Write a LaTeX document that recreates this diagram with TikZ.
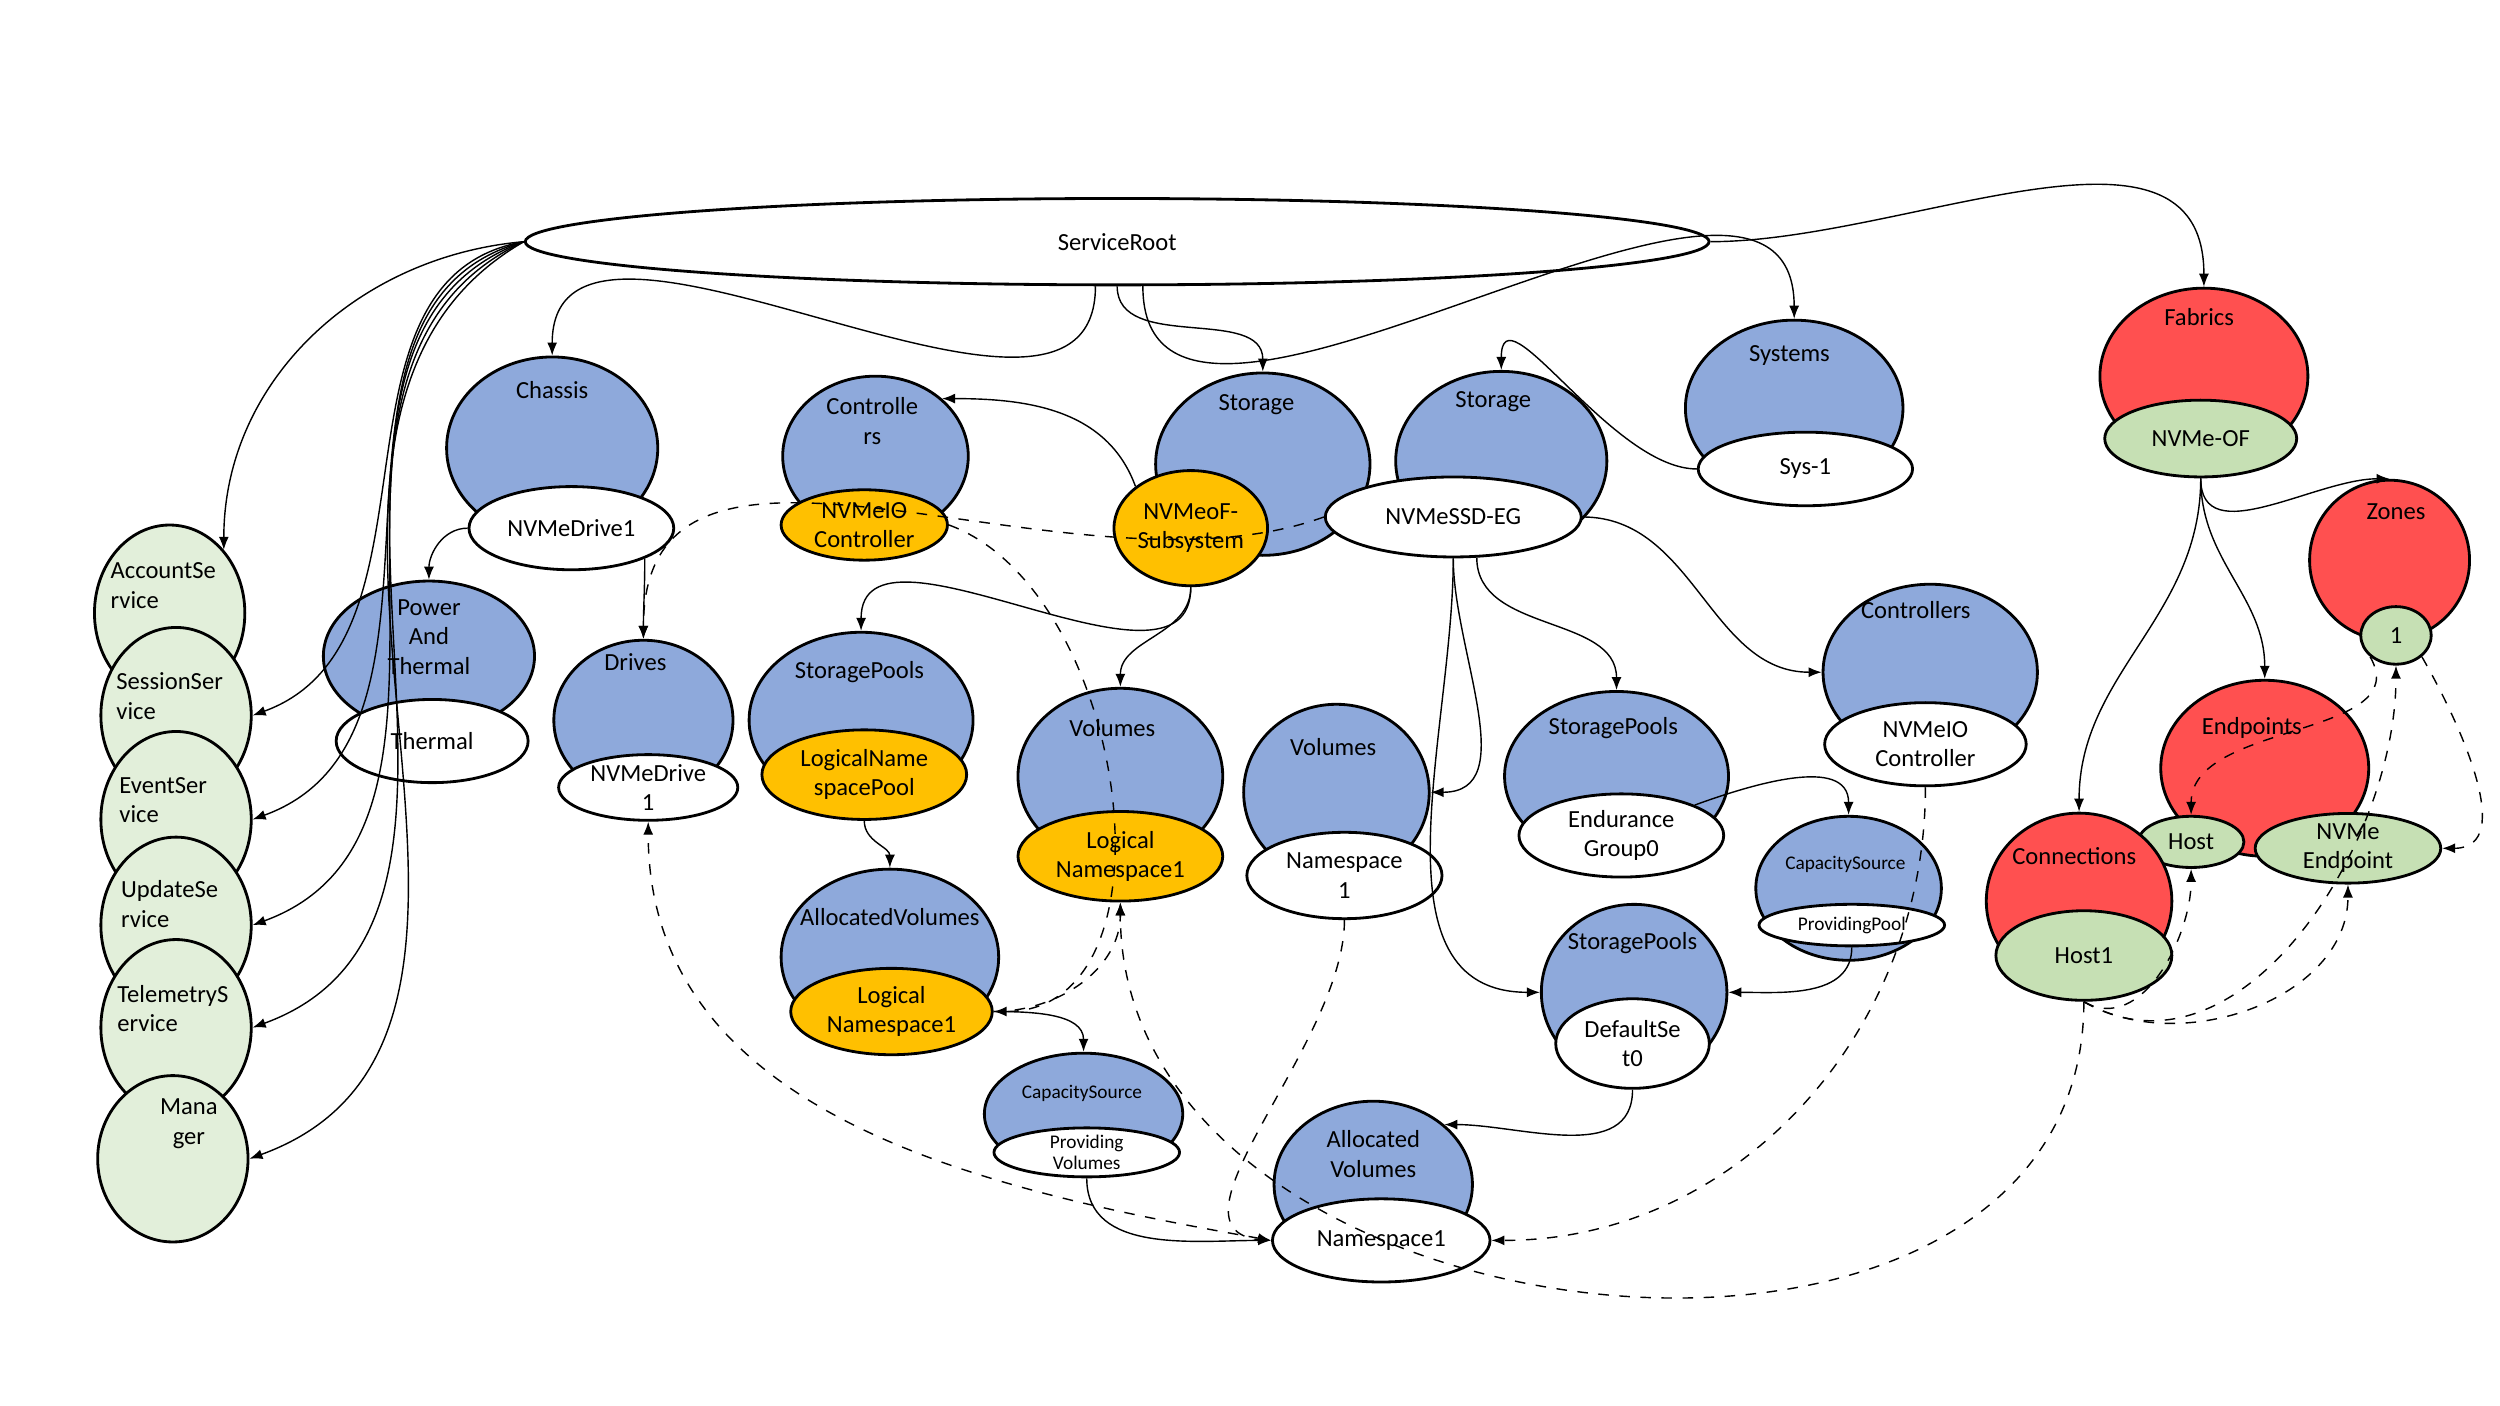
\documentclass[tikz,border=0pt]{standalone}
\usepackage{fontspec}
\setmainfont{Carlito}
\usetikzlibrary{shapes.geometric,arrows.meta}
\definecolor{resblue}{HTML}{8EA9DB}
\definecolor{resorange}{HTML}{FFC000}
\definecolor{resred}{HTML}{FF5050}
\definecolor{resgreen}{HTML}{C6E0B4}
\definecolor{respale}{HTML}{E2EFDA}
\begin{document}
\begin{tikzpicture}[x=0.016cm,y=-0.016cm,font=\fontsize{7}{8.4}\selectfont,
    sz/.style 2 args={minimum width=#1*0.032cm,minimum height=#2*0.032cm},
    res/.style={ellipse,draw,thick,inner sep=0pt,align=center},
    blue/.style={res,fill=resblue},
    orange/.style={res,fill=resorange},
    red/.style={res,fill=resred},
    green/.style={res,fill=resgreen},
    pale/.style={res,fill=respale},
    white/.style={res,fill=white},
    lbl/.style={align=center,inner sep=1pt}]
      \useasboundingbox (0,0) rectangle (1562,878);
      % collections and members
      \node[white,sz={370}{27}] (sr) at (698,151) {ServiceRoot};
      \node[blue,sz={66}{57}] (chassis) at (345,280) {};
      \node[lbl] (chassisT) at (345,244) {Chassis};
      \node[white,sz={64}{26}] (drive1) at (357,330) {NVMeDrive1};
      \node[blue,sz={66}{47}] (power) at (268,410) {};
      \node[lbl] (powerT) at (268,398) {Power\\And\\Thermal};
      \node[white,sz={60}{26}] (thermal) at (270,463) {Thermal};
      \node[blue,sz={56}{50}] (drives) at (402,450) {};
      \node[lbl] (drivesT) at (397,414) {Drives};
      \node[white,sz={56}{19}] (drive2) at (405,492) {NVMeDrive\\1};
      \node[blue,sz={58}{50}] (ctrlA) at (547,285) {};
      \node[lbl] (ctrlAT) at (545,263) {Controlle\\rs};
      \node[orange,sz={52}{22}] (ioA) at (540,328) {NVMeIO\\Controller};
      \node[blue,sz={67}{57}] (stA) at (789,290) {};
      \node[lbl] (stAT) at (785,253) {Storage};
      \node[orange,sz={48}{36}] (subsys) at (744,330) {NVMeoF-\\Subsystem};
      \node[blue,sz={66}{56}] (stB) at (938,288) {};
      \node[lbl] (stBT) at (933,251) {Storage};
      \node[white,sz={80}{25}] (ssd) at (908,323) {NVMeSSD-EG};
      \node[blue,sz={68}{55}] (systems) at (1121,255) {};
      \node[lbl] (systemsT) at (1118,222) {Systems};
      \node[white,sz={67}{23}] (sys1) at (1128,293) {Sys-1};
      \node[blue,sz={70}{55}] (poolA) at (538,450) {};
      \node[lbl] (poolAT) at (537,420) {StoragePools};
      \node[orange,sz={64}{28}] (lnp) at (540,484) {LogicalName\\spacePool};
      \node[blue,sz={64}{55}] (volA) at (700,485) {};
      \node[lbl] (volAT) at (695,455) {Volumes};
      \node[orange,sz={64}{28}] (lnA) at (700,535) {Logical\\Namespace1};
      \node[blue,sz={58}{55}] (volB) at (835,495) {};
      \node[lbl] (volBT) at (833,467) {Volumes};
      \node[white,sz={61}{27}] (ns1) at (840,547) {Namespace\\1};
      \node[blue,sz={68}{55}] (alloc) at (556,598) {};
      \node[lbl] (allocT) at (556,573) {AllocatedVolumes};
      \node[orange,sz={63}{27}] (lnB) at (557,632) {Logical\\Namespace1};
      \node[blue,sz={62}{38}] (capA) at (677,696) {};
      \node[lbl,font=\fontsize{5.5}{6.5}\selectfont] (capAT) at (676,683) {CapacitySource};
      \node[white,sz={58}{14},font=\fontsize{5.5}{6}\selectfont] (provVol) at (679,720) {Providing\\Volumes};
      \node[blue,sz={62}{52}] (allocB) at (858,740) {};
      \node[lbl] (allocBT) at (858,721) {Allocated\\Volumes};
      \node[white,sz={68}{26}] (ns2) at (863,775) {Namespace1};
      \node[blue,sz={70}{53}] (poolB) at (1010,485) {};
      \node[lbl] (poolBT) at (1008,455) {StoragePools};
      \node[white,sz={64}{26}] (eg0) at (1013,522) {Endurance\\Group0};
      \node[blue,sz={58}{45}] (capB) at (1155,555) {};
      \node[lbl,font=\fontsize{5.5}{6.5}\selectfont] (capBT) at (1153,540) {CapacitySource};
      \node[white,sz={58}{13},font=\fontsize{5.5}{6.5}\selectfont] (provPool) at (1157,578) {ProvidingPool};
      \node[blue,sz={58}{55}] (poolC) at (1021,620) {};
      \node[lbl] (poolCT) at (1020,589) {StoragePools};
      \node[white,sz={48}{28}] (set0) at (1020,652) {DefaultSe\\t0};
      \node[blue,sz={67}{55}] (ctrlB) at (1206,420) {};
      \node[lbl] (ctrlBT) at (1197,381) {Controllers};
      \node[white,sz={63}{26}] (ioB) at (1203,465) {NVMeIO\\Controller};
      % fabrics
      \node[red,sz={65}{55}] (fabrics) at (1377,235) {};
      \node[lbl] (fabricsT) at (1374,198) {Fabrics};
      \node[green,sz={60}{24}] (nvmeof) at (1375,274) {NVMe-OF};
      \node[red,sz={50}{50}] (zones) at (1493,350) {};
      \node[lbl] (zonesT) at (1497,320) {Zones};
      \node[green,sz={22}{18}] (zone1) at (1497,397) {1};
      \node[red,sz={65}{55}] (endpoints) at (1415,480) {};
      \node[lbl] (endpointsT) at (1407,455) {Endpoints};
      \node[green,sz={33}{16}] (host) at (1369,526) {Host};
      \node[green,sz={58}{19}] (ep) at (1467,530) {NVMe\\Endpoint};
      \node[red,sz={58}{55}] (conn) at (1299,563) {};
      \node[lbl] (connT) at (1296,535) {Connections};
      \node[green,sz={55}{28}] (host1) at (1302,597) {Host1};
      % services
      \begin{scope}[every node/.style={pale,sz={47}{55}}]
        \node (account) at (106,383) {};
        \node (session) at (110,447) {};
        \node (event) at (110,512) {};
        \node (update) at (110,578) {};
        \node (telemetry) at (110,642) {};
        \node[sz={47}{52}] (manager) at (108,724) {};
      \end{scope}
      \begin{scope}[every node/.style={lbl,align=left}]
        \node (accountT) at (102,366) {AccountSe\\rvice};
        \node (sessionT) at (106,435) {SessionSer\\vice};
        \node (eventT) at (102,500) {EventSer\\vice};
        \node (updateT) at (106,565) {UpdateSe\\rvice};
        \node (telemetryT) at (108,630) {TelemetryS\\ervice};
        \node[align=center] (managerT) at (118,702) {Mana\\ger};
      \end{scope}
      \begin{scope}[every edge/.style={draw,-{Latex[length=1.3mm,width=1mm]}}]
        \path (sr.west) edge[out=185,in=90] (account.north east);
        \path (sr.west) edge[out=190,in=20] (session.east);
        \path (sr.west) edge[out=195,in=20] (event.east);
        \path (sr.west) edge[out=200,in=20] (update.east);
        \path (sr.west) edge[out=205,in=20] (telemetry.east);
        \path (sr.west) edge[out=210,in=20] (manager.east);
        \path (sr.244) edge[out=-90,in=90] (chassis.north);
        \path (sr.270) edge[out=-90,in=90] (stA.north);
        \path (sr.300) edge[out=-90,in=90] (systems.north);
        \path (sr.east) edge[out=0,in=90] (fabrics.north);
        \path (sys1.west) edge[out=180,in=90] (stB.north);
        \path (drive1.west) edge[out=180,in=90] (power.north);
        \path (drive1.south east) edge[out=-90,in=90] (drives.north);
        \path (subsys.north west) edge[out=110,in=0] (ctrlA.north east);
        \path (subsys.south) edge[out=-90,in=90] (poolA.north);
        \path (subsys.south) edge[out=-90,in=90] (volA.north);
        \path (ssd.south) edge[out=-90,in=0] (volB.east);
        \path (ssd.south) edge[out=-90,in=180] (poolC.west);
        \path (ssd.300) edge[out=-90,in=90] (poolB.north);
        \path (ssd.east) edge[out=0,in=180] (ctrlB.west);
        \path (lnp.south) edge[out=-90,in=90] (alloc.north);
        \path (lnB.east) edge[out=0,in=90] (capA.north);
        \path (provVol.south) edge[out=-90,in=180] (ns2.west);
        \path (eg0.north east) edge[out=20,in=90] (capB.north);
        \path (provPool.south) edge[out=-90,in=0] (poolC.east);
        \path (set0.south) edge[out=-90,in=0] (allocB.north east);
        \path (nvmeof.south) edge[out=-90,in=180] (zones.north);
        \path (nvmeof.south) edge[out=-90,in=90] (endpoints.north);
        \path (nvmeof.south) edge[out=-90,in=90] (conn.north);
      \end{scope}
      \begin{scope}[every edge/.style={draw,dashed,-{Latex[length=1.3mm,width=1mm]}}]
        \path (ssd.west) edge[out=200,in=90] (drives.north);
        \path (ioA.east) edge[out=-20,in=0] (lnB.east);
        \path (lnB.east) edge[out=0,in=-90] (lnA.south);
        \path (ns2.west) edge[{Latex[length=1.3mm,width=1mm]}-{Latex[length=1.3mm,width=1mm]},out=170,in=-90] (drive2.south);
        \path (ns1.south) edge[-,out=-90,in=180] (ns2.west);
        \path (ioB.south) edge[out=-90,in=0] (ns2.east);
        \path (host1.south) edge[out=-90,in=-90,looseness=1.2] (lnA.south);
        \path (host1.south) edge[out=-30,in=-90] (host.south);
        \path (host1.south) edge[out=-30,in=-90] (ep.south);
        \path (host1.south) edge[out=-30,in=-90] (zone1.south);
        \path (zone1.south west) edge[out=-60,in=90] (host.north);
        \path (zone1.south east) edge[out=-60,in=0] (ep.east);
      \end{scope}
    \end{tikzpicture}
\end{document}
